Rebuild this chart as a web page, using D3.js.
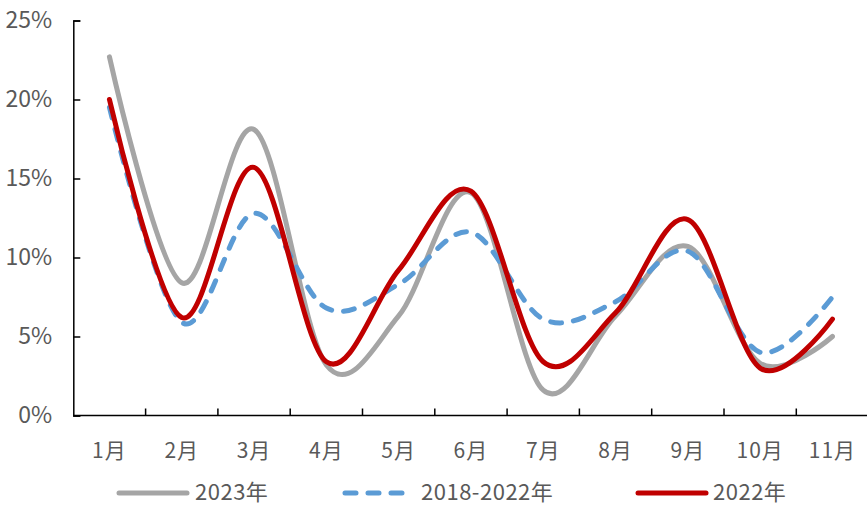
<!DOCTYPE html>
<html><head><meta charset="utf-8">
<script src="https://cdn.jsdelivr.net/npm/d3@7"></script>
<style>
html,body{margin:0;padding:0;background:#fff;}
svg{display:block;}
text{font-family:"Noto Sans CJK SC","Noto Sans",sans-serif;fill:#595959;}
</style></head>
<body>
<svg id="chart" width="867" height="506"></svg>
<script>
const categories = ["1月","2月","3月","4月","5月","6月","7月","8月","9月","10月","11月"];
const s2023 = [22.7, 8.4, 18.1, 3.2, 6.3, 14.1, 1.6, 6.3, 10.7, 3.3, 5.0];
const s1822 = [19.5, 5.9, 12.8, 6.8, 8.3, 11.6, 6.1, 7.2, 10.4, 4.0, 7.5];
const s2022 = [20.0, 6.2, 15.7, 3.4, 9.2, 14.2, 3.4, 6.5, 12.4, 3.0, 6.1];
const yTicks = [0, 5, 10, 15, 20, 25];
const seriesNames = ["2023年", "2018-2022年", "2022年"];

const svg = d3.select("#chart");
const pLeft = 73.3, pRight = 868.6, pTop = 20.5, pBottom = 415.5;

const x = d3.scaleBand().domain(categories).range([pLeft, pRight]).padding(0);
const y = d3.scaleLinear().domain([0, 25]).range([pBottom, pTop]);

// Y axis
const yAxis = svg.append("g").attr("transform", `translate(${pLeft},0)`)
  .call(d3.axisLeft(y).tickValues(yTicks).tickFormat(d => d + "%").tickSize(-7).tickPadding(21));
yAxis.select(".domain").attr("stroke", "#000").attr("stroke-width", 1.5);
yAxis.selectAll(".tick line").attr("stroke", "#000").attr("stroke-width", 1.5);
yAxis.selectAll("text").attr("font-size", 23).attr("fill", "#595959")
  .attr("font-family", "\"Liberation Sans Narrow\",\"DejaVu Sans Condensed\",sans-serif");

// X axis
const xg = svg.append("g").attr("transform", `translate(0,${pBottom})`);
xg.append("line").attr("x1", pLeft).attr("x2", 867).attr("y1", 0).attr("y2", 0)
  .attr("stroke", "#000").attr("stroke-width", 1.5);
xg.selectAll("line.tk").data(categories.slice(1)).join("line").attr("class", "tk")
  .attr("x1", d => x(d)).attr("x2", d => x(d)).attr("y1", 0).attr("y2", -7)
  .attr("stroke", "#000").attr("stroke-width", 1.5);
xg.selectAll("text").data(categories).join("text")
  .attr("x", d => x(d) + x.bandwidth() / 2).attr("y", 42)
  .attr("text-anchor", "middle").attr("font-size", 21).attr("letter-spacing", 1)
  .text(d => d);

// Lines
const line = d3.line()
  .x((d, i) => x(categories[i]) + x.bandwidth() / 2)
  .y(d => y(d))
  .curve(d3.curveCardinal.tension(0));

const styles = [
  {data: s2023, color: "#A5A5A5", dash: null},
  {data: s1822, color: "#5B9BD5", dash: "11,12"},
  {data: s2022, color: "#C00000", dash: null}
];
styles.forEach(s => {
  svg.append("path").datum(s.data).attr("d", line)
    .attr("fill", "none").attr("stroke", s.color).attr("stroke-width", 5)
    .attr("stroke-linecap", "round").attr("stroke-linejoin", "round")
    .attr("stroke-dasharray", s.dash);
});

// Legend
const legendPos = [{x1: 119, x2: 187, tx: 195}, {x1: 345, x2: 406, tx: 421}, {x1: 638, x2: 706, tx: 713}];
seriesNames.forEach((name, i) => {
  const p = legendPos[i], s = styles[i];
  svg.append("line").attr("x1", p.x1).attr("x2", p.x2).attr("y1", 493).attr("y2", 493)
    .attr("stroke", s.color).attr("stroke-width", 5).attr("stroke-linecap", "round")
    .attr("stroke-dasharray", s.dash);
  svg.append("text").attr("x", p.tx).attr("y", 500).attr("font-size", 22)
    .attr("letter-spacing", 0.5).text(name);
});
</script>
</body></html>
